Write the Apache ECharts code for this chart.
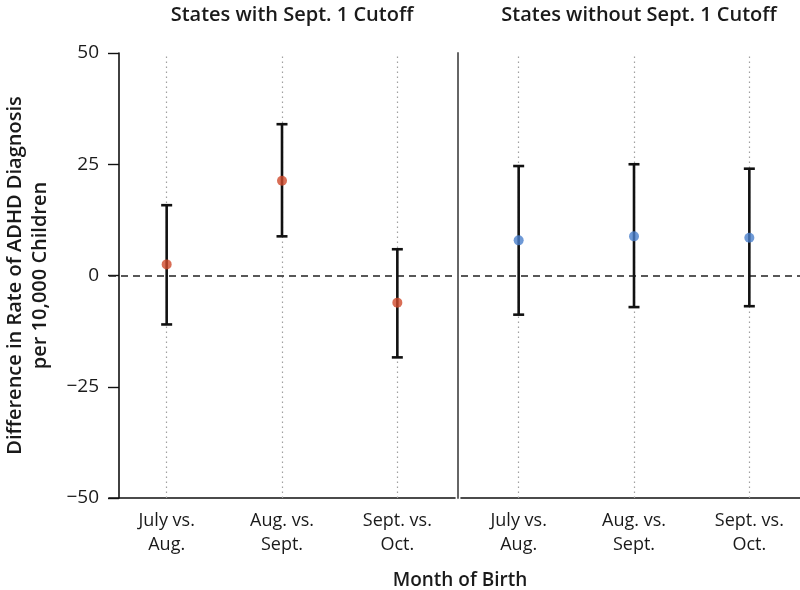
<!DOCTYPE html>
<html><head><meta charset="utf-8">
<script src="https://cdn.jsdelivr.net/npm/echarts@6.0.0/dist/echarts.min.js"></script>
<style>html,body{margin:0;padding:0;background:#fff}#c{width:800px;height:590px}</style>
</head><body><div id="c"></div>
<script>
const panelTitles = ['States with Sept. 1 Cutoff', 'States without Sept. 1 Cutoff'];
const categories = ['July vs.\nAug.', 'Aug. vs.\nSept.', 'Sept. vs.\nOct.'];
const withCutoffEst = [2.5, 21.3, -6.1];
const withCutoffLow = [-11.0, 8.8, -18.4];
const withCutoffHigh = [15.8, 34.0, 5.9];
const withoutCutoffEst = [7.9, 8.8, 8.5];
const withoutCutoffLow = [-8.8, -7.1, -6.9];
const withoutCutoffHigh = [24.6, 25.0, 24.0];
const yMin = -50, yMax = 50, yStep = 25;
const yTitle = 'Difference in Rate of ADHD Diagnosis\nper 10,000 Children';
const xTitle = 'Month of Birth';

const FONT = '"Open Sans", Lato, sans-serif';
const TXT = '#1a1a1a';
const chart = echarts.init(document.getElementById('c'), null, {renderer: 'canvas'});

function errRender(params, api) {
  const lo = api.coord([api.value(0), api.value(1)]);
  const hi = api.coord([api.value(0), api.value(2)]);
  const cap = 5.5;
  const style = {stroke: '#111', lineWidth: 2.6};
  return {type: 'group', children: [
    {type: 'line', shape: {x1: lo[0], y1: lo[1], x2: hi[0], y2: hi[1]}, style},
    {type: 'line', shape: {x1: lo[0] - cap, y1: lo[1], x2: lo[0] + cap, y2: lo[1]}, style},
    {type: 'line', shape: {x1: hi[0] - cap, y1: hi[1], x2: hi[0] + cap, y2: hi[1]}, style}
  ]};
}

function xAxisFor(i) {
  return {
    type: 'category', gridIndex: i, data: categories,
    axisLine: {show: true, onZero: false, lineStyle: {color: '#111', width: 1.6}},
    axisTick: {show: false},
    splitLine: {show: false},
    axisLabel: {fontSize: 18, color: TXT, fontFamily: FONT, lineHeight: 24, margin: 11, interval: 0}
  };
}

function guideSeries(i) {
  const data = categories.map(c => ({xAxis: c, lineStyle: {type: [1.5, 3.5], color: '#a0a0a0', width: 1.2}}));
  data.push({yAxis: 0, lineStyle: {type: [7, 5], color: '#222', width: 1.5}});
  return {
    type: 'line', xAxisIndex: i, yAxisIndex: i, data: categories.map(() => null),
    symbol: 'none', lineStyle: {opacity: 0}, z: 1, silent: true,
    markLine: {silent: true, z: 1, symbol: ['none', 'none'], label: {show: false}, animation: false, data}
  };
}

const titleStyle = {fontSize: 20, fontWeight: 600, color: TXT, fontFamily: FONT};
const option = {
  animation: false,
  backgroundColor: '#fff',
  title: [
    {text: panelTitles[0], left: 287, top: 0, textAlign: 'center', textStyle: titleStyle},
    {text: panelTitles[1], left: 634, top: 0, textAlign: 'center', textStyle: titleStyle},
    {text: xTitle, left: 455, top: 566, textAlign: 'center',
     textStyle: {fontSize: 19, fontWeight: 600, color: TXT, fontFamily: FONT}}
  ],
  grid: [
    {left: 109, width: 346, top: 53, height: 445, outerBoundsMode: 'none', containLabel: false},
    {left: 461, width: 346, top: 53, height: 445, outerBoundsMode: 'none', containLabel: false}
  ],
  xAxis: [xAxisFor(0), xAxisFor(1)],
  yAxis: [
    {type: 'value', gridIndex: 0, min: yMin, max: yMax, interval: yStep, offset: -10,
     name: yTitle, nameLocation: 'middle', nameGap: 66, nameRotate: 90,
     nameTextStyle: {fontSize: 20, fontWeight: 600, color: TXT, fontFamily: FONT, lineHeight: 25},
     axisLine: {show: true, onZero: false, lineStyle: {color: '#111', width: 1.6}},
     axisTick: {show: true, length: 11, lineStyle: {color: '#111', width: 1.4}},
     splitLine: {show: false},
     axisLabel: {fontSize: 19, color: TXT, fontFamily: FONT, margin: 20,
                 formatter: v => String(v).replace('-', '\u2212')}},
    {type: 'value', gridIndex: 1, min: yMin, max: yMax, interval: yStep, offset: 3,
     axisLine: {show: true, onZero: false, lineStyle: {color: '#666', width: 2}},
     axisTick: {show: false}, axisLabel: {show: false}, splitLine: {show: false}}
  ],
  series: [
    guideSeries(0), guideSeries(1),
    {type: 'custom', xAxisIndex: 0, yAxisIndex: 0, z: 3, renderItem: errRender,
     data: categories.map((c, i) => [i, withCutoffLow[i], withCutoffHigh[i]])},
    {type: 'custom', xAxisIndex: 1, yAxisIndex: 1, z: 3, renderItem: errRender,
     data: categories.map((c, i) => [i, withoutCutoffLow[i], withoutCutoffHigh[i]])},
    {type: 'scatter', xAxisIndex: 0, yAxisIndex: 0, z: 4, symbolSize: 10,
     itemStyle: {color: '#cf4a2c'}, data: withCutoffEst},
    {type: 'scatter', xAxisIndex: 1, yAxisIndex: 1, z: 4, symbolSize: 10,
     itemStyle: {color: '#4a7fcc'}, data: withoutCutoffEst}
  ]
};
chart.setOption(option);
</script></body></html>
